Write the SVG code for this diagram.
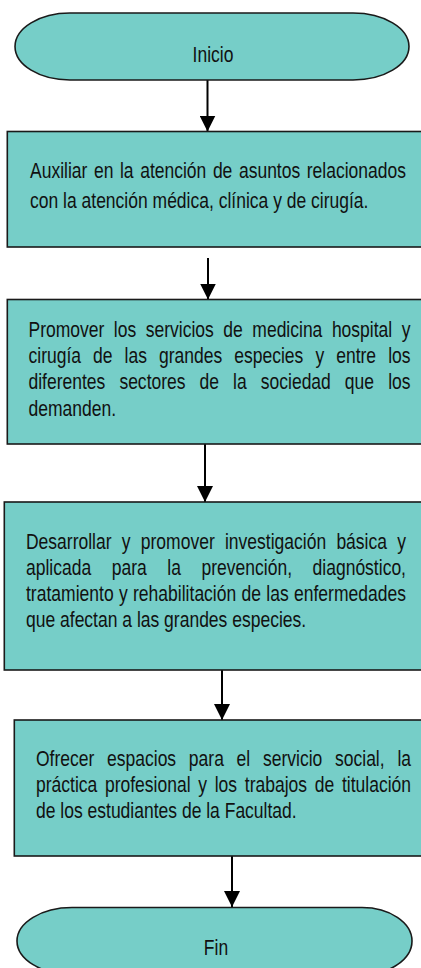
<svg xmlns="http://www.w3.org/2000/svg" width="421" height="968" viewBox="0 0 421 968">
<style>
.shape{fill:#76cec8;stroke:#1a1a1a;stroke-width:1.6}
.t{font-family:"Liberation Sans",Arial,sans-serif;font-size:17.5px;fill:#111}
.c{text-anchor:middle}
.line{stroke:#000;stroke-width:2;fill:none}
</style>
<defs>
<marker id="ah" markerUnits="userSpaceOnUse" markerWidth="17" markerHeight="16" refX="16" refY="8" orient="auto">
<path d="M0,0 L16,8 L0,16 Z" fill="#000"/>
</marker>
</defs>
<g id="connectors">
<line class="line" x1="207.5" y1="80" x2="207.5" y2="131.5" marker-end="url(#ah)"/>
<line class="line" x1="208" y1="258" x2="208" y2="299.5" marker-end="url(#ah)"/>
<line class="line" x1="205" y1="444" x2="205" y2="502" marker-end="url(#ah)"/>
<line class="line" x1="222" y1="670" x2="222" y2="720" marker-end="url(#ah)"/>
<line class="line" x1="232" y1="856" x2="232" y2="907" marker-end="url(#ah)"/>
</g>
<g id="inicio">
<path class="shape" d="M70,13 H353 A56,33.5 0 0 1 353,80 H70 A55,33.5 0 0 1 70,13 Z"/>
<text class="t c" transform="translate(213,62) scale(1,1.22)">Inicio</text>
</g>
<g id="box1">
<rect class="shape" x="7.3" y="131.5" width="420" height="115.5"/>
<text class="t" transform="translate(30,178) scale(1,1.22)" word-spacing="1.7" textLength="376" lengthAdjust="spacing">Auxiliar en la atención de asuntos relacionados</text>
<text class="t" transform="translate(30,208) scale(1,1.22)">con la atención médica, clínica y de cirugía.</text>
</g>
<g id="box2">
<rect class="shape" x="7.3" y="299.5" width="420" height="144.5"/>
<text class="t" transform="translate(28.5,337) scale(1,1.22)" word-spacing="4.67" textLength="382" lengthAdjust="spacing">Promover los servicios de medicina hospital y</text>
<text class="t" transform="translate(28.5,363) scale(1,1.22)" word-spacing="7.19" textLength="382" lengthAdjust="spacing">cirugía de las grandes especies y entre los</text>
<text class="t" transform="translate(28.5,389) scale(1,1.22)" word-spacing="9.2" textLength="382" lengthAdjust="spacing">diferentes sectores de la sociedad que los</text>
<text class="t" transform="translate(28.5,416) scale(1,1.22)">demanden.</text>
</g>
<g id="box3">
<rect class="shape" x="4.3" y="502" width="420" height="168"/>
<text class="t" transform="translate(26,549) scale(1,1.22)" word-spacing="5.4" textLength="380" lengthAdjust="spacing">Desarrollar y promover investigación básica y</text>
<text class="t" transform="translate(26,575) scale(1,1.22)" word-spacing="15.7" textLength="380" lengthAdjust="spacing">aplicada para la prevención, diagnóstico,</text>
<text class="t" transform="translate(26,601) scale(1,1.22)" word-spacing="0.43" textLength="380" lengthAdjust="spacing">tratamiento y rehabilitación de las enfermedades</text>
<text class="t" transform="translate(26,627) scale(1,1.22)">que afectan a las grandes especies.</text>
</g>
<g id="box4">
<rect class="shape" x="14.3" y="720" width="420" height="136"/>
<text class="t" transform="translate(36,766) scale(1,1.22)" word-spacing="7.9" textLength="375" lengthAdjust="spacing">Ofrecer espacios para el servicio social, la</text>
<text class="t" transform="translate(36,792) scale(1,1.22)" word-spacing="2.85" textLength="375" lengthAdjust="spacing">práctica profesional y los trabajos de titulación</text>
<text class="t" transform="translate(36,818) scale(1,1.22)">de los estudiantes de la Facultad.</text>
</g>
<g id="fin">
<path class="shape" d="M72,907.5 H362 A50,33.5 0 0 1 362,974.5 H72 A55,33.5 0 0 1 72,907.5 Z"/>
<text class="t c" transform="translate(216,955) scale(1,1.22)">Fin</text>
</g>
</svg>
